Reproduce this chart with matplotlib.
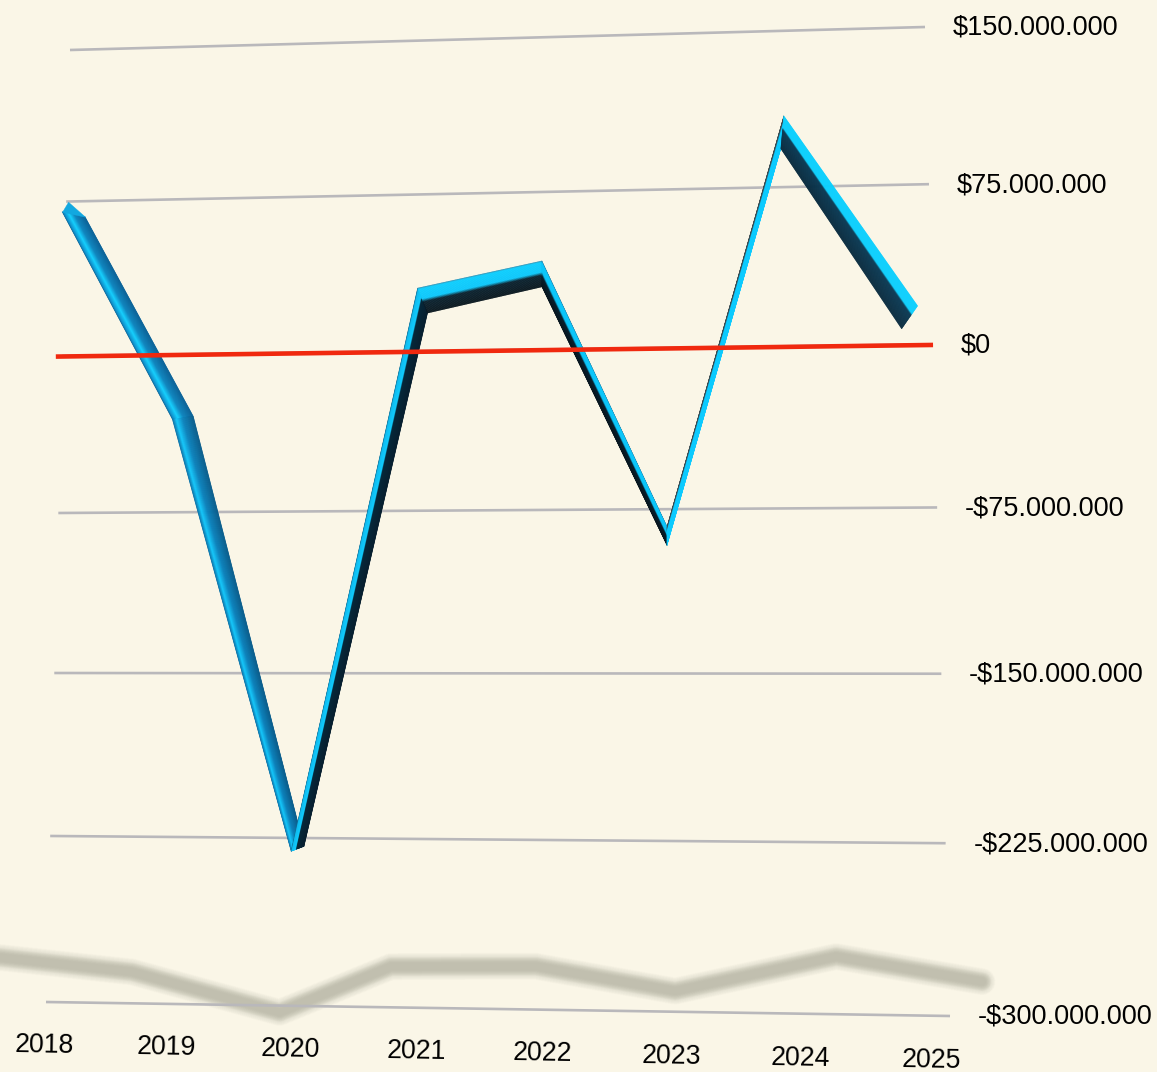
import numpy as np
import matplotlib
matplotlib.use("Agg")
from matplotlib import pyplot as plt
from matplotlib.collections import PolyCollection
from matplotlib.colors import to_rgb
from matplotlib.transforms import Transform

plt.rcParams['font.family'] = ['Liberation Sans', 'DejaVu Sans']

# chart data, in dollars (millions)
years = [2018, 2019, 2020, 2021, 2022, 2023, 2024, 2025]
values = [70, -31, -231, 30, 42, -83, 109, 18]
grid_values = [150, 75, 0, -75, -150, -225, -300]
grid_labels = ['$150.000.000', '$75.000.000', '$0', '-$75.000.000',
               '-$150.000.000', '-$225.000.000', '-$300.000.000']

# floor shadow of the series, read on the same scale
shadow_years = [2017.54, 2018.69, 2019.89, 2020.78, 2021.93, 2023.02, 2024.27, 2025.38]
shadow_levels = [-280, -286, -303, -282, -281, -291, -275, -285]

BG = '#faf6e7'
GRID = '#b9b8bb'
RED = '#f0290f'
X_LEFT, X_RIGHT = 2017.99, 2025.13

# extrusion look, pixels per year: shift of the front edge, front to back edge
front_shift = [-5, -8, -4, -4, -1, -1, -3, 2]
depth_dx = [23, 21, 13, 10, 0, 0, -3, -16]
depth_dy = [5, -3, -5, 25, 26, 19, 33, 23]

# gradient across the ribbon for each segment, front edge (0) to back edge (1)
segment_stops = [
    [(0, '#0c5f90'), (.08, '#0e90cc'), (.3, '#14d0ff'), (.55, '#0f86c0'), (1, '#0a6298')],
    [(0, '#0b6aa0'), (.2, '#14c8fc'), (.5, '#0d83bd'), (1, '#0a5d8c')],
    [(0, '#0c5f85'), (.08, '#10bcf0'), (.36, '#10ccff'), (.44, '#06283a'), (1, '#071f2f')],
    [(0, '#3a87a8'), (.06, '#0ccfff'), (.44, '#0cc8fc'), (.56, '#0a2230'), (1, '#0a1820')],
    [(0, '#2a7a9f'), (.1, '#0cc8fc'), (.45, '#0cc4f8'), (.6, '#08202f'), (1, '#07161f')],
    [(0, '#3a4a50'), (.15, '#3a4a50'), (.32, '#0ccaff'), (1, '#0ccaff')],
    [(0, '#0cd0ff'), (.36, '#0cd0ff'), (.42, '#0a3a55'), (1, '#0a2c40')],
]


class Perspective(Transform):
    """maps (year, value) on the tilted chart plane to pixels"""
    input_dims = 2
    output_dims = 2

    def __init__(self):
        super().__init__()
        src = [(X_LEFT, 150), (X_RIGHT, 150), (X_LEFT, -300), (X_RIGHT, -300)]
        dst = [(70, 50), (925, 27), (46, 1002), (950, 1016)]
        rows, rhs = [], []
        for (x, y), (u, v) in zip(src, dst):
            rows.append([x, y, 1, 0, 0, 0, -u * x, -u * y])
            rows.append([0, 0, 0, x, y, 1, -v * x, -v * y])
            rhs += [u, v]
        self.h = np.append(np.linalg.solve(np.array(rows, float), rhs), 1).reshape(3, 3)

    def transform_non_affine(self, values):
        pts = np.column_stack([values, np.ones(len(values))]) @ self.h.T
        return pts[:, :2] / pts[:, 2:]


def ribbon_strip(front, back, stops, n=40):
    """thin quads between front and back edge, coloured along the gradient"""
    t = np.linspace(0, 1, n + 1)
    pos = [s[0] for s in stops]
    rgb = np.array([to_rgb(s[1]) for s in stops])
    polys, colors = [], []
    for a, b in zip(t[:-1], t[1:]):
        p0 = front + (back - front) * a
        p1 = front + (back - front) * b
        polys.append([p0[0], p0[1], p1[1], p1[0]])
        mid = (a + b) / 2
        colors.append([np.interp(mid, pos, rgb[:, c]) for c in range(3)])
    return PolyCollection(polys, facecolors=colors, edgecolors=colors,
                          linewidths=0.3, zorder=4)


def main():
    fig = plt.figure(figsize=(11.57, 10.72), dpi=100, facecolor=BG)
    ax = fig.add_axes([0, 0, 1, 1])
    ax.set_xlim(0, 1157)
    ax.set_ylim(1072, 0)
    ax.axis('off')

    persp = Perspective()
    to_px = persp + ax.transData

    # blurred floor shadow, stacked soft strokes
    for lw, alpha in zip(np.linspace(27, 8, 20), [.03] * 8 + [.09] * 12):
        ax.plot(shadow_years, shadow_levels, color='#b4b3a2', lw=lw * .72, alpha=alpha,
                transform=to_px, solid_joinstyle='round', solid_capstyle='round',
                zorder=1)

    for val, label in zip(grid_values, grid_labels):
        ax.plot([X_LEFT, X_RIGHT], [val, val], color=GRID, lw=1.9,
                solid_capstyle='butt', transform=to_px, zorder=2)
        ax.annotate(label, (X_RIGHT, val), xycoords=to_px, xytext=(20, 1.5),
                    textcoords='offset points', ha='left', va='center_baseline',
                    fontsize=19.5, color='black', zorder=6)

    # extruded series
    front = persp.transform(np.column_stack([years, values]))
    front[:, 0] += front_shift
    back = front + np.column_stack([depth_dx, depth_dy])
    for i, stops in enumerate(segment_stops):
        ax.add_collection(ribbon_strip(front[i:i + 2], back[i:i + 2], stops))

    # pointed end of the ribbon at the first year
    tip = front[0] + (6, -10)
    ax.add_collection(PolyCollection([[front[0], tip, back[0]]], facecolors='#12a8e0',
                                     edgecolors='#12a8e0', linewidths=0.3, zorder=4))

    ax.plot([X_LEFT - .055, X_RIGHT], [-.3, -.3], color=RED, lw=3.3, solid_capstyle='butt',
            transform=to_px, zorder=5)

    for year in years:
        ax.annotate(str(year), (year, -318), xycoords=to_px, xytext=(-1.5, 0),
                    textcoords='offset points', ha='center',
                    va='center_baseline', fontsize=19.2, rotation=-1,
                    rotation_mode='anchor', color='black', zorder=6)

    fig.savefig('out.png', dpi=100, facecolor=BG)


if __name__ == "__main__":
    main()
